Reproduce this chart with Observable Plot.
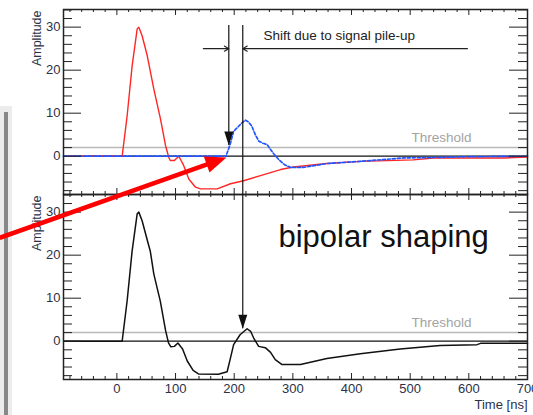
<!DOCTYPE html>
<html><head><meta charset="utf-8">
<script src="https://cdn.jsdelivr.net/npm/d3@7"></script>
<script src="https://cdn.jsdelivr.net/npm/@observablehq/plot@0.6"></script>
<style>
html,body{margin:0;padding:0;background:#fff;width:533px;height:415px;overflow:hidden;}
#wrap{position:relative;width:533px;height:415px;}
.deco1{position:absolute;left:0;top:106px;width:12px;height:309px;background:#ececec;}
.deco2{position:absolute;left:4px;top:112px;width:4px;height:303px;background:#888;}
#chart{position:absolute;left:0;top:0;}
</style></head><body><div id="wrap"><div class="deco1"></div><div class="deco2"></div><div id="chart"></div></div>
<script>
// tick labels
const timeTicks = [0, 100, 200, 300, 400, 500, 600, 700];
const ampTicks = [0, 10, 20, 30];
const panels = ["top", "bottom"];
const threshold = 2;

// first pulse (red), [time ns, amplitude]
const redPulse = [[-91,0],[9,0],[17.5,9.4],[26,21],[34.6,29.6],[37.4,30],[43,28],[51.7,23.4],[63,15.6],[74.3,8.7],[82.9,2.5],[88.5,-0.3],[91,-1.0],[98,-1.0],[105.6,0],[114,-2.2],[122.6,-5.3],[134,-7.2],[142.5,-7.6],[171,-7.6],[193.7,-6.4],[216,-5.7],[244.8,-4.5],[279,-3.1],[301,-2.5],[358,-1.7],[415,-1.2],[505,-0.85],[540,-0.4],[660,-0.4],[700,-0.2]];
// second pulse (blue dashed)
const bluePulse = [[-91,0],[186,0],[193,2.7],[199,5.8],[205,6.6],[212,7.6],[219,8.4],[224,8.0],[230,7.0],[236,5.0],[242,3.5],[249,3.0],[256,2.7],[266,0.8],[276,-0.8],[286,-2.0],[296,-2.6],[318,-2.6],[358,-1.7],[415,-1.2],[489,-0.4],[539,-0.3],[600,-0.1],[700,0]];
// bipolar shaped sum (black)
const sumPulse = [[-91,0],[9,0],[17.5,9.4],[26,21],[34.6,29.6],[37.4,30],[43,28],[52,23.4],[57,20.9],[63,15.6],[74,9.3],[83,2.5],[88,-0.4],[92,-1.3],[98,-1.2],[104,-0.4],[112,-1.8],[120,-4.6],[130,-6.8],[139,-7.6],[173,-7.7],[188,-7.1],[194,-3.7],[199,-0.8],[210,1.5],[222,2.9],[228,2.3],[233,0.8],[241.6,-1.2],[253,-1.5],[262,-2.6],[270,-4.3],[281,-5.4],[313,-5.4],[358,-4.0],[415,-2.9],[483,-1.8],[551,-1.0],[614,-0.8],[620,-0.5],[700,-0.5]];

const W = 533, H = 415, mL = 63, mR = 6, mT = 9, mB = 36;
const innerW = W - mL - mR;
const panelH = (H - mT - mB) / 2;
const minorX = d3.range(-80, 701, 20).filter(d => d % 100 !== 0);
const majorX = d3.range(0, 701, 100);
const minorY = d3.range(-8, 35, 2).filter(d => d % 10 !== 0);
const font = "'Liberation Sans', Arial, Helvetica, sans-serif";
const rows = (arr, panel) => arr.map(([t, v]) => ({t, v, panel}));
const labelColor = "#2b3147";

const downTip = {draw(ctx) { ctx.moveTo(0, 0); ctx.lineTo(-4.5, -14); ctx.lineTo(4.5, -14); ctx.closePath(); }};
const rightTip = {draw(ctx) { ctx.moveTo(0, 0); ctx.lineTo(-21, -8.5); ctx.lineTo(-21, 8.5); ctx.closePath(); }};

const plot = Plot.plot({
  width: W, height: H,
  marginLeft: mL, marginRight: mR, marginTop: mT, marginBottom: mB,
  style: {background: "transparent", fontFamily: font, overflow: "visible"},
  x: {domain: [-91, 700]},
  y: {domain: [-8.9, 34.1]},
  fy: {domain: panels, padding: 0, axis: null},
  marks: [
    Plot.ruleY([threshold], {stroke: "#b8b8b8", strokeWidth: 1.5}),
    Plot.ruleY([0], {stroke: "#111", strokeWidth: 1.2}),
    Plot.line(rows(redPulse, "top"), {x: "t", y: "v", fy: "panel", stroke: "#ff2626", strokeWidth: 1.4}),
    Plot.line(rows(bluePulse, "top"), {x: "t", y: "v", fy: "panel", stroke: "#2255ff", strokeWidth: 1.7, strokeDasharray: "3,2"}),
    Plot.line(rows(sumPulse, "bottom"), {x: "t", y: "v", fy: "panel", stroke: "#111", strokeWidth: 1.5}),
    // inner ticks (ROOT style)
    Plot.tickY(ampTicks, {y: d => d, insetRight: innerW - 18, stroke: "#222"}),
    Plot.tickY(minorY, {y: d => d, insetRight: innerW - 9, stroke: "#222"}),
    Plot.tickY(ampTicks, {y: d => d, insetLeft: innerW - 18, stroke: "#222"}),
    Plot.tickY(minorY, {y: d => d, insetLeft: innerW - 9, stroke: "#222"}),
    Plot.tickX(majorX, {x: d => d, insetTop: panelH - 6, stroke: "#222"}),
    Plot.tickX(minorX, {x: d => d, insetTop: panelH - 3, stroke: "#222"}),
    Plot.tickX(majorX, {x: d => d, insetBottom: panelH - 6, stroke: "#222"}),
    Plot.tickX(minorX, {x: d => d, insetBottom: panelH - 3, stroke: "#222"}),
    Plot.frame({stroke: "#222", strokeWidth: 1.5}),
    Plot.axisY(ampTicks, {tickSize: 0, tickPadding: 3, fontSize: 13, fill: labelColor, label: null}),
    Plot.axisX(timeTicks, {tickSize: 0, tickPadding: 4, fontSize: 13, fill: labelColor, label: null}),
    Plot.text(["Amplitude"], {frameAnchor: "top-left", rotate: -90, textAnchor: "end", dx: -31, dy: 1, fontSize: 12.5, fill: labelColor}),
    Plot.text(["Time [ns]"], {fy: () => "bottom", frameAnchor: "bottom-right", textAnchor: "end", lineAnchor: "middle", dy: 25, fontSize: 13, fill: labelColor}),
    Plot.text([{t: 604.5, v: 4.3, s: "Threshold"}], {x: "t", y: "v", text: "s", textAnchor: "end", fontSize: 13.5, fill: "#a3a3a3"}),
    // annotations: pile-up shift
    Plot.ruleX([{t: 190.8, v1: 30.4, v2: 2.5, panel: "top"}], {x: "t", y1: "v1", y2: "v2", fy: "panel", stroke: "#111", strokeWidth: 1.2}),
    Plot.ruleX([{t: 214.6, v1: 30.4, v2: -8.9, panel: "top"}, {t: 214.6, v1: 34.1, v2: 2.9, panel: "bottom"}], {x: "t", y1: "v1", y2: "v2", fy: "panel", stroke: "#111", strokeWidth: 1.2}),
    Plot.dot([{t: 190.8, v: 2.5, panel: "top"}, {t: 214.6, v: 2.9, panel: "bottom"}], {x: "t", y: "v", fy: "panel", symbol: downTip, fill: "#111", stroke: "none"}),
    Plot.arrow([{a: 147.4, b: 190.8, v: 25, panel: "top"}, {a: 597.6, b: 214.6, v: 25, panel: "top"}], {x1: "a", x2: "b", y1: "v", y2: "v", fy: "panel", stroke: "#222", strokeWidth: 1.1, headLength: 7, headAngle: 60}),
    Plot.text([{t: 249.9, v: 28.0, s: "Shift due to signal pile-up", panel: "top"}], {x: "t", y: "v", text: "s", fy: "panel", textAnchor: "start", fontSize: 13.5, fill: "#222"}),
    Plot.text([{t: 275.5, v: 24.3, s: "bipolar shaping", panel: "bottom"}], {x: "t", y: "v", text: "s", fy: "panel", textAnchor: "start", fontSize: 31, fill: "#111"}),
    // red pointer arrow
    Plot.arrow([{a: -198.4, av: -18.9, b: 186.8, bv: -0.3, panel: "top"}], {x1: "a", y1: "av", x2: "b", y2: "bv", fy: "panel", stroke: "#ff0000", strokeWidth: 4.5, headLength: 0, insetEnd: 16}),
    Plot.dot([{t: 186.8, v: -0.3, panel: "top"}], {x: "t", y: "v", fy: "panel", symbol: rightTip, rotate: -19.5, fill: "#ff0000", stroke: "none"})
  ]
});
document.getElementById("chart").appendChild(plot);
</script>
</body></html>
